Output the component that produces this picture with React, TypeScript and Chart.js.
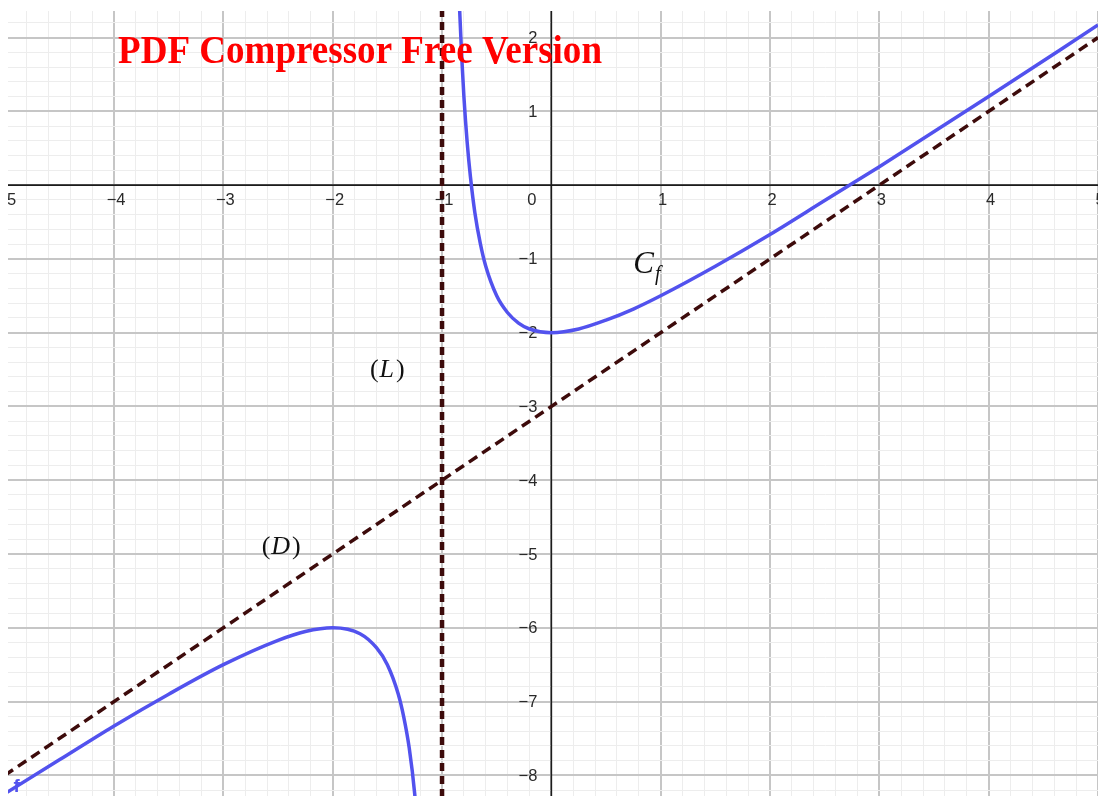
import { useEffect, useRef } from "react";
import { Chart, registerables } from "chart.js";

Chart.register(...registerables);

const W = 1098;
const H = 796;

// Viewing window
const X_MIN = -4.97;
const X_MAX = 5.0;
const Y_MIN = -8.28;
const Y_MAX = 2.36;

// Curve C_f — branch to the left of x = -1
const leftX = [-5, -4.5, -4, -3.5, -3, -2.5, -2.25, -2, -1.75, -1.6, -1.5, -1.4, -1.35, -1.3, -1.25, -1.2];
const leftY = [-8.25, -7.79, -7.33, -6.9, -6.5, -6.17, -6.05, -6, -6.08, -6.27, -6.5, -6.9, -7.21, -7.63, -8.25, -9.2];

// Curve C_f — branch to the right of x = -1
const rightX = [-0.85, -0.84, -0.82, -0.8, -0.77, -0.74, -0.7, -0.65, -0.6, -0.5, -0.4, -0.3, -0.2, 0, 0.25, 0.5, 0.75, 1, 1.5, 2, 2.5, 3, 4, 5];
const rightY = [2.82, 2.41, 1.74, 1.2, 0.58, 0.11, -0.37, -0.79, -1.1, -1.5, -1.73, -1.87, -1.95, -2, -1.95, -1.83, -1.68, -1.5, -1.1, -0.67, -0.21, 0.25, 1.2, 2.17];

// Oblique asymptote (D)
const dX = [-5, 5];
const dY = [-8, 2];

// Vertical asymptote (L)
const lX = [-1, -1];
const lY = [-9, 3];

// Axis tick labels
const xTickValues = [-5, -4, -3, -2, -1, 1, 2, 3, 4, 5];
const xTickLabels = ["−5", "−4", "−3", "−2", "−1", "1", "2", "3", "4", "5"];
const yTickValues = [2, 1, -1, -2, -3, -4, -5, -6, -7, -8];
const yTickLabels = ["2", "1", "−1", "−2", "−3", "−4", "−5", "−6", "−7", "−8"];

const BLUE = "#5252ee";
const MAROON = "#3d0b0b";

const toPoints = (xs: number[], ys: number[]) => xs.map((x, i) => ({ x, y: ys[i] }));

const gridTicks = (lo: number, hi: number) => {
  const out: { value: number }[] = [];
  for (let i = Math.ceil(lo * 5); i <= Math.floor(hi * 5); i++) out.push({ value: i / 5 });
  return out;
};

const isMajor = (v: number) => Math.abs(v - Math.round(v)) < 1e-6;

const axesPlugin = {
  id: "geoAxes",
  beforeDatasetsDraw(chart: any) {
    const { ctx, chartArea: ca } = chart;
    const xs = chart.scales.x;
    const ys = chart.scales.y;
    const x0 = xs.getPixelForValue(0);
    const y0 = ys.getPixelForValue(0);
    ctx.save();
    ctx.beginPath();
    ctx.rect(ca.left, ca.top, ca.right - ca.left, ca.bottom - ca.top);
    ctx.clip();
    ctx.strokeStyle = "#1c1c1c";
    ctx.lineWidth = 1.6;
    ctx.beginPath();
    ctx.moveTo(ca.left, y0);
    ctx.lineTo(ca.right, y0);
    ctx.moveTo(x0, ca.top);
    ctx.lineTo(x0, ca.bottom);
    ctx.stroke();

    ctx.fillStyle = "#2a2a2a";
    ctx.font = '16.5px "Liberation Sans", Arial, sans-serif';
    ctx.textBaseline = "middle";
    ctx.textAlign = "center";
    xTickValues.forEach((v, i) => {
      ctx.fillText(xTickLabels[i], xs.getPixelForValue(v) + 2, y0 + 15);
    });
    ctx.textAlign = "right";
    yTickValues.forEach((v, i) => {
      ctx.fillText(yTickLabels[i], x0 - 14, ys.getPixelForValue(v) + 1);
    });
    ctx.fillText("0", x0 - 15, y0 + 15);
    ctx.restore();
  },
  afterDatasetsDraw(chart: any) {
    const { ctx, chartArea: ca } = chart;
    const xs = chart.scales.x;
    const ys = chart.scales.y;
    const px = (x: number) => xs.getPixelForValue(x);
    const py = (y: number) => ys.getPixelForValue(y);
    ctx.save();
    ctx.beginPath();
    ctx.rect(ca.left, ca.top, ca.right - ca.left, ca.bottom - ca.top);
    ctx.clip();
    ctx.fillStyle = "#111111";
    ctx.textBaseline = "alphabetic";
    ctx.textAlign = "left";

    // C_f
    let cx = px(0.75);
    const cy = py(-1.19);
    ctx.font = 'italic 31px "Liberation Serif", "DejaVu Serif", serif';
    ctx.fillText("C", cx, cy);
    cx += ctx.measureText("C").width + 1;
    ctx.font = 'italic 20px "Liberation Serif", "DejaVu Serif", serif';
    ctx.fillText("f", cx, cy + 7);

    // (L) and (D)
    const drawLabel = (letter: string, x: number, y: number) => {
      let lx = px(x);
      const ly = py(y);
      ctx.font = '26px "Liberation Serif", "DejaVu Serif", serif';
      ctx.fillText("(", lx, ly);
      lx += ctx.measureText("(").width + 1;
      ctx.font = 'italic 26px "Liberation Serif", "DejaVu Serif", serif';
      ctx.fillText(letter, lx, ly);
      lx += ctx.measureText(letter).width + 2;
      ctx.font = '26px "Liberation Serif", "DejaVu Serif", serif';
      ctx.fillText(")", lx, ly);
    };
    drawLabel("L", -1.66, -2.6);
    drawLabel("D", -2.65, -5.0);

    // curve name
    ctx.fillStyle = BLUE;
    ctx.font = 'bold 19px "Liberation Sans", Arial, sans-serif';
    ctx.fillText("f", px(-4.92), py(-8.22));
    ctx.restore();

    // overlay stamp
    ctx.save();
    ctx.fillStyle = "#ff0000";
    ctx.font = 'bold 41px "Liberation Serif", "Times New Roman", serif';
    const text = "PDF Compressor Free Version";
    const w = ctx.measureText(text).width;
    ctx.translate(118, 63);
    ctx.scale(484 / w, 1);
    ctx.fillText(text, 0, 0);
    ctx.restore();
  },
};

export default function App() {
  const canvasRef = useRef<HTMLCanvasElement | null>(null);

  useEffect(() => {
    if (!canvasRef.current) return;
    const gridColor = (c: any) => (isMajor(c.tick.value) ? "#c6c6c6" : "#ededed");
    const gridWidth = (c: any) => (isMajor(c.tick.value) ? 2 : 1);
    const chart = new Chart(canvasRef.current, {
      type: "scatter",
      data: {
        datasets: [
          {
            data: toPoints(rightX, rightY),
            showLine: true,
            borderColor: BLUE,
            borderWidth: 3.5,
            pointRadius: 0,
            cubicInterpolationMode: "monotone",
          },
          {
            data: toPoints(leftX, leftY),
            showLine: true,
            borderColor: BLUE,
            borderWidth: 3.5,
            pointRadius: 0,
            cubicInterpolationMode: "monotone",
          },
          {
            data: toPoints(dX, dY),
            showLine: true,
            borderColor: MAROON,
            borderWidth: 3.5,
            borderDash: [10, 6],
            pointRadius: 0,
          },
          {
            data: toPoints(lX, lY),
            showLine: true,
            borderColor: MAROON,
            borderWidth: 4.5,
            borderDash: [8, 5],
            pointRadius: 0,
          },
        ],
      },
      options: {
        animation: false,
        responsive: false,
        devicePixelRatio: 1,
        layout: { padding: { left: 8, top: 11, right: 0, bottom: 0 } },
        plugins: { legend: { display: false }, tooltip: { enabled: false } },
        scales: {
          x: {
            type: "linear",
            min: X_MIN,
            max: X_MAX,
            afterBuildTicks: (s: any) => {
              s.ticks = gridTicks(X_MIN, X_MAX);
            },
            ticks: { display: false },
            border: { display: false },
            grid: { color: gridColor, lineWidth: gridWidth, drawTicks: false },
          },
          y: {
            type: "linear",
            min: Y_MIN,
            max: Y_MAX,
            afterBuildTicks: (s: any) => {
              s.ticks = gridTicks(Y_MIN, Y_MAX);
            },
            ticks: { display: false },
            border: { display: false },
            grid: { color: gridColor, lineWidth: gridWidth, drawTicks: false },
          },
        },
      },
      plugins: [axesPlugin],
    } as any);
    return () => chart.destroy();
  }, []);

  return (
    <div style={{ position: "fixed", left: 0, top: 0, width: W, height: H, background: "#ffffff" }}>
      <canvas ref={canvasRef} width={W} height={H} style={{ display: "block" }} />
    </div>
  );
}
